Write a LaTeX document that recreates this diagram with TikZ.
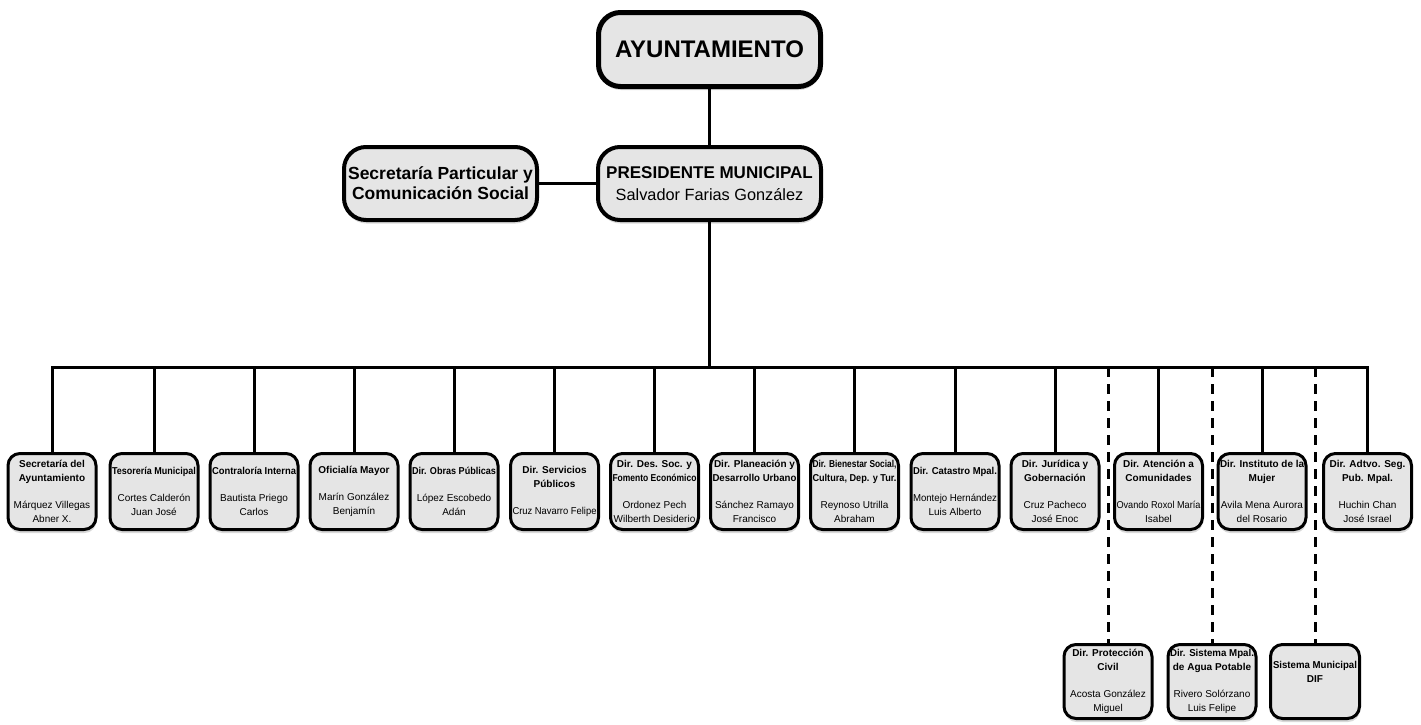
\documentclass[tikz,border=0pt]{standalone}
\usepackage{fontspec}
\setmainfont{Liberation Sans}
\usetikzlibrary{shadows}
\newsavebox\fitbx
\newcommand\fitl[2][84]{\sbox\fitbx{#2}\ifdim\wd\fitbx>#1pt\relax\pgfmathsetmacro\fitf{#1/\the\wd\fitbx}\scalebox{\fitf}[1]{\usebox\fitbx}\else\usebox\fitbx\fi}
\newcommand\hd[1]{\fitl{\bfseries #1}}
\newcommand\nm[1]{\fitl{#1}}
\begin{document}
\begin{tikzpicture}[x=1pt,y=-1pt,
  shd/.style={drop shadow={shadow xshift=0.5pt,shadow yshift=-3.5pt,opacity=0.3}},
  bx/.style={shd,draw=black,fill=gray!20,rounded corners=12pt,line width=3pt,
    minimum width=88pt,minimum height=76pt,align=center,inner sep=1pt,
    font=\fontsize{10}{13.8}\selectfont},
  lowbx/.style={bx,minimum height=74pt},
  topbx/.style={shd,draw=black,fill=gray!20,rounded corners=22pt,line width=4pt,
    align=center,inner sep=2pt},
  conn/.style={line width=3pt},
  dconn/.style={line width=3pt,dash pattern=on 10pt off 7pt}]
\useasboundingbox (0,0) rectangle (1421,724);

% top level
\node[topbx,line width=5pt,minimum width=222pt,minimum height=74pt,
  font=\bfseries\fontsize{24}{28}\selectfont] (ayunt) at (709.5,49.5) {AYUNTAMIENTO};
\node[topbx,minimum width=223pt,minimum height=73pt,
  font=\fontsize{16.3}{22}\selectfont] (pres) at (709.5,183.5)
  {{\bfseries\fontsize{17}{22}\selectfont PRESIDENTE MUNICIPAL}\\Salvador Farias González};
\node[topbx,minimum width=193pt,minimum height=73pt,
  font=\bfseries\fontsize{17.5}{20}\selectfont] (secp) at (440.5,183.5)
  {Secretaría Particular y\\Comunicación Social};

% second row
\node[bx] (b1) at (52,491.5) {\hd{Secretaría del}\\\hd{Ayuntamiento}\\[13.5pt]\nm{Márquez Villegas}\\\nm{Abner X.}};
\node[bx] (b2) at (154,491.5) {\hd{Tesorería Municipal}\\[13.5pt]\nm{Cortes Calderón}\\\nm{Juan José}};
\node[bx] (b3) at (254,491.5) {\hd{Contraloría Interna}\\[13.5pt]\nm{Bautista Priego}\\\nm{Carlos}};
\node[bx] (b4) at (354,491.5) {\hd{Oficialía Mayor}\\[13.5pt]\nm{Marín González}\\\nm{Benjamín}};
\node[bx] (b5) at (454,491.5) {\hd{Dir. Obras Públicas}\\[13.5pt]\nm{López Escobedo}\\\nm{Adán}};
\node[bx] (b6) at (554.5,491.5) {\hd{Dir. Servicios}\\\hd{Públicos}\\[13.5pt]\nm{Cruz Navarro Felipe}};
\node[bx] (b7) at (654.5,491.5) {\hd{Dir. Des. Soc. y}\\\hd{Fomento Económico}\\[13.5pt]\nm{Ordonez Pech}\\\nm{Wilberth Desiderio}};
\node[bx] (b8) at (754.5,491.5) {\hd{Dir. Planeación y}\\\hd{Desarrollo Urbano}\\[13.5pt]\nm{Sánchez Ramayo}\\\nm{Francisco}};
\node[bx] (b9) at (854.5,491.5) {\hd{Dir. Bienestar Social,}\\\hd{Cultura, Dep. y Tur.}\\[13.5pt]\nm{Reynoso Utrilla}\\\nm{Abraham}};
\node[bx] (b10) at (955,491.5) {\hd{Dir. Catastro Mpal.}\\[13.5pt]\nm{Montejo Hernández}\\\nm{Luis Alberto}};
\node[bx] (b11) at (1055,491.5) {\hd{Dir. Jurídica y}\\\hd{Gobernación}\\[13.5pt]\nm{Cruz Pacheco}\\\nm{José Enoc}};
\node[bx] (b12) at (1158.5,491.5) {\hd{Dir. Atención a}\\\hd{Comunidades}\\[13.5pt]\nm{Ovando Roxol María}\\\nm{Isabel}};
\node[bx] (b13) at (1262,491.5) {\hd{Dir. Instituto de la}\\\hd{Mujer}\\[13.5pt]\nm{Avila Mena Aurora}\\\nm{del Rosario}};
\node[bx] (b14) at (1367.5,491.5) {\hd{Dir. Adtvo. Seg.}\\\hd{Pub. Mpal.}\\[13.5pt]\nm{Huchin Chan}\\\nm{José Israel}};

% third row (dashed)
\node[lowbx] (c1) at (1108,681.5) {\hd{Dir. Protección}\\\hd{Civil}\\[13.5pt]\nm{Acosta González}\\\nm{Miguel}};
\node[lowbx] (c2) at (1212,681.5) {\hd{Dir. Sistema Mpal.}\\\hd{de Agua Potable}\\[13.5pt]\nm{Rivero Solórzano}\\\nm{Luis Felipe}};
\node[lowbx,minimum width=89pt] (c3) at (1315,681.5) {\hd{Sistema Municipal}\\\hd{DIF}\\[6pt]\mbox{}};

% connectors
\coordinate (bar) at (709.5,367);
\draw[conn] (ayunt) -- (pres);
\draw[conn] (secp) -- (pres);
\draw[conn] (pres.south) -- (bar);
\draw[conn] (b1.north) |- (bar) -| (b14.north);
\foreach \i in {2,...,13}{\draw[conn] (b\i.north) -- (b\i.north |- bar);}
\foreach \i in {1,2,3}{\draw[dconn] (c\i.north |- bar) -- (c\i.north);}
\end{tikzpicture}
\end{document}
